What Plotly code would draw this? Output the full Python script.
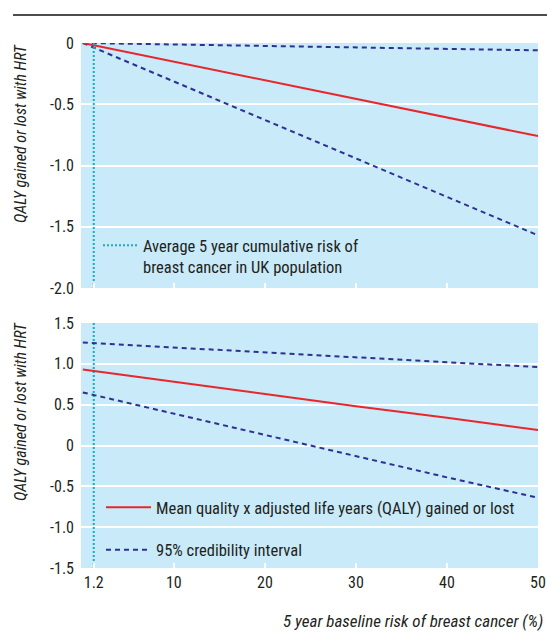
import plotly.graph_objects as go

W, H = 547, 632

# ---------------- data ----------------
risk_pct = [0, 10, 20, 30, 40, 50]
UK_AVG_RISK = 1.2

# top panel (QALY gained or lost with HRT)
top_mean = [0, -0.152, -0.304, -0.456, -0.608, -0.76]
top_upper = [0, -0.012, -0.024, -0.036, -0.048, -0.06]
top_lower = [0, -0.314, -0.628, -0.942, -1.256, -1.57]

# bottom panel
bot_mean = [0.93, 0.78, 0.63, 0.48, 0.34, 0.19]
bot_upper = [1.26, 1.20, 1.14, 1.08, 1.02, 0.96]
bot_lower = [0.65, 0.39, 0.13, -0.13, -0.39, -0.64]

x_tickvals = [1.2, 10, 20, 30, 40, 50]
x_ticktext = ["1.2", "10", "20", "30", "40", "50"]
top_yticks = [0, -0.5, -1.0, -1.5, -2.0]
top_yticktext = ["0", "-0.5", "-1.0", "-1.5", "-2.0"]
bot_yticks = [1.5, 1.0, 0.5, 0, -0.5, -1.0, -1.5]
bot_yticktext = ["1.5", "1.0", "0.5", "0", "-0.5", "-1.0", "-1.5"]

y_title = "QALY gained or lost with HRT"
x_title = "5 year baseline risk of breast cancer (%)"
lbl_avg = "Average 5 year cumulative risk of<br>breast cancer in UK population"
lbl_mean = "Mean quality x adjusted life years (QALY) gained or lost"
lbl_ci = "95% credibility interval"

# ---------------- style ----------------
FONT = "Liberation Sans Narrow, Roboto Condensed, Arial Narrow, Liberation Sans, sans-serif"
FS = 16
FSL = 16.5
BG = "#c8eaf9"
RED = "#e8262b"
NAVY = "#2e3192"
CYAN = "#1aabc4"
TXT = "#231f20"

def px_x(p):
    return p / W

def px_y(p):
    return 1 - p / H

fig = go.Figure()

line_mean = dict(color=RED, width=2)
line_ci = dict(color=NAVY, width=2, dash="5px,4px")
line_avg = dict(color=CYAN, width=2, dash="2px,2px")

# top panel
fig.add_trace(go.Scatter(x=risk_pct, y=top_upper, mode="lines", line=line_ci,
                         xaxis="x", yaxis="y", showlegend=False, cliponaxis=False))
fig.add_trace(go.Scatter(x=risk_pct, y=top_lower, mode="lines", line=line_ci,
                         xaxis="x", yaxis="y", showlegend=False))
fig.add_trace(go.Scatter(x=risk_pct, y=top_mean, mode="lines", line=line_mean,
                         xaxis="x", yaxis="y", showlegend=False, cliponaxis=False))
fig.add_trace(go.Scatter(x=[UK_AVG_RISK, UK_AVG_RISK], y=[0, -2.0], mode="lines", line=line_avg,
                         xaxis="x", yaxis="y", name=lbl_avg, legend="legend"))

# bottom panel
fig.add_trace(go.Scatter(x=[UK_AVG_RISK, UK_AVG_RISK], y=[1.5, -1.5], mode="lines", line=line_avg,
                         xaxis="x2", yaxis="y2", showlegend=False))
fig.add_trace(go.Scatter(x=risk_pct, y=bot_mean, mode="lines", line=line_mean,
                         xaxis="x2", yaxis="y2", name=lbl_mean, legend="legend2",
                         legendgroup="a"))
fig.add_trace(go.Scatter(x=risk_pct, y=bot_upper, mode="lines", line=line_ci,
                         xaxis="x2", yaxis="y2", name=lbl_ci, legend="legend2",
                         legendgroup="b"))
fig.add_trace(go.Scatter(x=risk_pct, y=bot_lower, mode="lines", line=line_ci,
                         xaxis="x2", yaxis="y2", showlegend=False))

xdom = [px_x(81), px_x(538)]
xrange_ = [-0.2, 50]

common_x = dict(domain=xdom, range=xrange_, tickvals=x_tickvals, ticktext=x_ticktext,
                showgrid=False, zeroline=False, showline=False, automargin=False,
                ticks="inside", ticklen=5, tickwidth=2, tickcolor="white",
                tickfont=dict(family=FONT, size=FS, color=TXT))
common_y = dict(showgrid=True, gridcolor="white", gridwidth=2, zeroline=False,
                showline=False, ticks="", ticklabelstandoff=6, automargin=False,
                tickfont=dict(family=FONT, size=FS, color=TXT))

fig.update_layout(
    width=W, height=H,
    margin=dict(l=0, r=0, t=0, b=0, pad=0, autoexpand=False),
    paper_bgcolor="white", plot_bgcolor=BG,
    font=dict(family=FONT, color=TXT),
    xaxis=dict(common_x, anchor="y", showticklabels=False),
    yaxis=dict(common_y, domain=[px_y(288), px_y(43)], range=[-2.0, 0],
               tickvals=top_yticks, ticktext=top_yticktext, anchor="x"),
    xaxis2=dict(common_x, anchor="y2", showticklabels=True, ticklabelstandoff=3),
    yaxis2=dict(common_y, domain=[px_y(568), px_y(323)], range=[-1.5, 1.5],
                tickvals=bot_yticks, ticktext=bot_yticktext, anchor="x2"),
    legend=dict(x=px_x(98), y=px_y(228), xanchor="left", yanchor="top",
                bgcolor="rgba(0,0,0,0)", font=dict(family=FONT, size=FSL, color=TXT),
                itemwidth=35, valign="top", tracegroupgap=0),
    legend2=dict(x=px_x(101), y=px_y(490), xanchor="left", yanchor="top",
                 bgcolor="rgba(0,0,0,0)", font=dict(family=FONT, size=FSL, color=TXT),
                 itemwidth=45, tracegroupgap=18),
    shapes=[dict(type="line", xref="paper", yref="paper",
                 x0=px_x(13), x1=1, y0=px_y(15), y1=px_y(15),
                 line=dict(color="#4d4d4d", width=2))],
    annotations=[
        dict(text="<i>" + y_title + "</i>", textangle=-90, xref="paper", yref="paper",
             x=px_x(20), y=px_y(134), showarrow=False,
             font=dict(family=FONT, size=FS, color=TXT), xanchor="center", yanchor="middle"),
        dict(text="<i>" + y_title + "</i>", textangle=-90, xref="paper", yref="paper",
             x=px_x(20), y=px_y(412), showarrow=False,
             font=dict(family=FONT, size=FS, color=TXT), xanchor="center", yanchor="middle"),
        dict(text="<i>" + x_title + "</i>", xref="paper", yref="paper",
             x=px_x(545), y=px_y(621), showarrow=False,
             font=dict(family=FONT, size=17, color=TXT), xanchor="right", yanchor="middle"),
    ],
)

fig.write_html("out.html", config={"displayModeBar": False},
               post_script="document.body.style.margin='0';document.body.style.overflow='hidden';")
